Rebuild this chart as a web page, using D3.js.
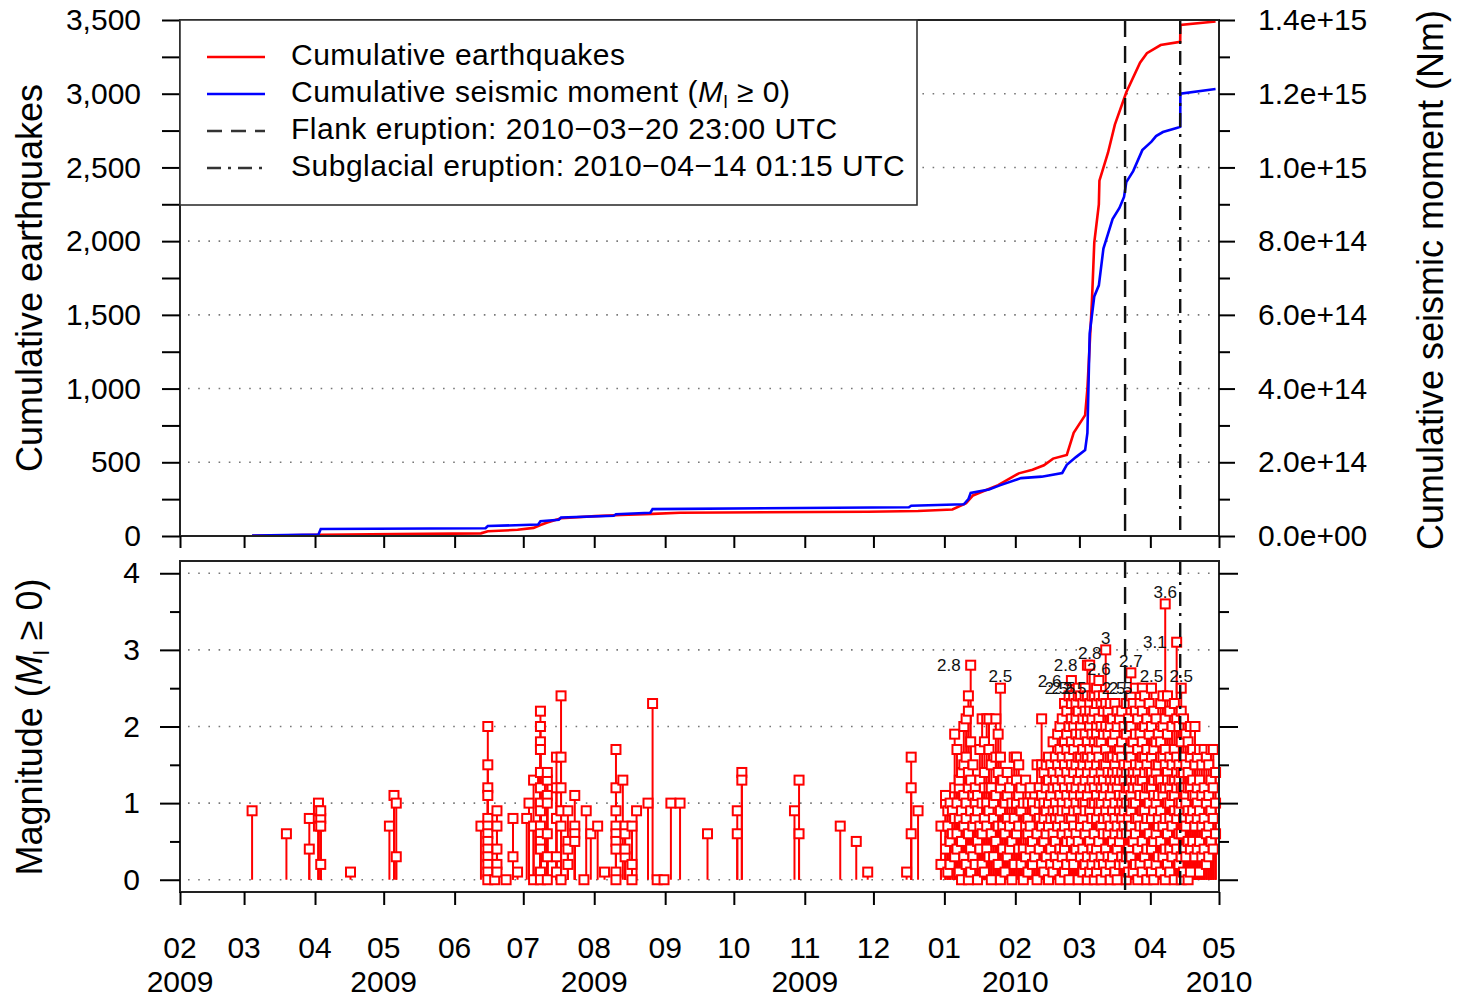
<!DOCTYPE html>
<html>
<head>
<meta charset="utf-8">
<script src="https://cdn.jsdelivr.net/npm/d3@7"></script>
<style>
  body { margin: 0; background: #fff; }
  svg { display: block; }
</style>
</head>
<body>
<svg width="1457" height="1000"></svg>
<script>
// cumulative number of earthquakes (red curve)
const cumCount = [
  ["2009-03-04", 1], ["2009-04-03", 8], ["2009-05-06", 13], ["2009-06-12", 18],
  ["2009-06-15", 32], ["2009-06-28", 42], ["2009-07-05", 55], ["2009-07-08", 75],
  ["2009-07-11", 92], ["2009-07-17", 120], ["2009-08-01", 135], ["2009-08-12", 142],
  ["2009-08-26", 150], ["2009-09-07", 158], ["2009-11-28", 164], ["2009-12-20", 170],
  ["2010-01-04", 180], ["2010-01-10", 222], ["2010-01-13", 275], ["2010-01-24", 345],
  ["2010-02-02", 425], ["2010-02-08", 450], ["2010-02-13", 480], ["2010-02-17", 525],
  ["2010-02-23", 550], ["2010-02-26", 700], ["2010-03-03", 820], ["2010-03-04", 1000],
  ["2010-03-06", 1600], ["2010-03-07", 1990], ["2010-03-09", 2250], ["2010-03-09 18:00", 2410],
  ["2010-03-13", 2600], ["2010-03-16", 2790], ["2010-03-21", 3010], ["2010-03-27", 3210],
  ["2010-03-30", 3275], ["2010-04-05", 3330], ["2010-04-14 01:00", 3352],
  ["2010-04-14 03:00", 3467], ["2010-04-29", 3490]
];

// cumulative seismic moment in Nm (blue curve)
const cumMoment = [
  ["2009-03-04", 0.1e13], ["2009-04-02", 0.4e13], ["2009-04-03", 1.9e13], ["2009-06-14", 2.1e13],
  ["2009-06-15", 2.7e13], ["2009-07-07", 3.1e13], ["2009-07-08", 4.0e13], ["2009-07-16", 4.4e13],
  ["2009-07-17", 5.0e13], ["2009-08-09", 5.5e13], ["2009-08-10", 5.9e13], ["2009-08-25", 6.3e13],
  ["2009-08-26", 7.3e13], ["2009-12-16", 7.8e13], ["2009-12-17", 8.2e13], ["2010-01-09", 8.6e13],
  ["2010-01-11", 1.0e14], ["2010-01-12", 1.17e14], ["2010-01-20", 1.26e14], ["2010-01-25", 1.38e14],
  ["2010-02-03", 1.57e14], ["2010-02-12", 1.61e14], ["2010-02-21", 1.71e14], ["2010-02-23", 1.93e14],
  ["2010-02-27", 2.14e14], ["2010-03-03", 2.33e14], ["2010-03-04 12:00", 2.8e14],
  ["2010-03-05 12:00", 5.5e14], ["2010-03-07", 6.5e14], ["2010-03-09", 6.8e14],
  ["2010-03-11", 7.8e14], ["2010-03-13", 8.2e14], ["2010-03-15 12:00", 8.6e14],
  ["2010-03-18", 8.9e14], ["2010-03-20", 9.2e14], ["2010-03-21", 9.6e14], ["2010-03-24", 9.9e14],
  ["2010-03-28", 1.047e15], ["2010-04-01", 1.07e15], ["2010-04-03", 1.085e15],
  ["2010-04-06", 1.096e15], ["2010-04-12", 1.107e15], ["2010-04-14 01:00", 1.11e15],
  ["2010-04-14 03:00", 1.2e15], ["2010-04-29", 1.213e15]
];

// earthquakes by day: [day, magnitudes]
const quakes2009 = [
  ["2009-03-04", [0.9]], ["2009-03-19", [0.6]], ["2009-03-29", [0.8, 0.4]],
  ["2009-04-02", [1.0, 0.9, 0.7]], ["2009-04-03", [0.8, 0.9, 0.7, 0.2]], ["2009-04-16", [0.1]],
  ["2009-05-03", [0.7]], ["2009-05-05", [1.1]], ["2009-05-06", [1.0, 0.3]],
  ["2009-06-12", [0.7]], ["2009-06-15", [2.0, 1.5, 1.2, 1.1, 0.8, 0.7, 0.6, 0.5, 0.4, 0.3, 0.2, 0.1, 0.0]],
  ["2009-06-18", [0.0]], ["2009-06-19", [0.9, 0.7, 0.4, 0.2, 0.1]], ["2009-06-23", [0.0]],
  ["2009-06-26", [0.8, 0.3]], ["2009-06-28", [0.1]], ["2009-07-02", [0.8]], ["2009-07-03", [1.0]],
  ["2009-07-05", [0.7, 1.3, 0.0]],
  ["2009-07-08", [2.2, 2.0, 1.8, 1.7, 1.4, 1.2, 1.0, 0.9, 0.7, 0.6, 0.5, 0.4, 0.1, 0.0]],
  ["2009-07-11", [1.3, 1.1, 1.0, 1.4, 0.6, 0.3, 0.0]], ["2009-07-15", [1.6, 0.8, 1.2, 0.3, 0.1]],
  ["2009-07-17", [2.4, 1.6, 1.2, 0.9, 0.7, 0.0]], ["2009-07-20", [0.9, 0.5, 0.4, 0.2]],
  ["2009-07-23", [1.1, 0.7, 0.6, 0.5]], ["2009-07-27", [0.0]], ["2009-07-28", [0.9]],
  ["2009-07-30", [0.6]], ["2009-08-02", [0.7]], ["2009-08-05", [0.1]],
  ["2009-08-10", [1.7, 1.2, 0.9, 0.7, 0.6, 0.5, 0.4, 0.1, 0.0]], ["2009-08-13", [1.3]],
  ["2009-08-14", [0.7, 0.3, 0.4, 0.6]], ["2009-08-17", [0.2, 0.0, 0.7]], ["2009-08-19", [0.9]],
  ["2009-08-24", [1.0]], ["2009-08-26", [2.3]], ["2009-08-28", [0.0]], ["2009-08-31", [0.0]],
  ["2009-09-03", [1.0]], ["2009-09-07", [1.0]], ["2009-09-19", [0.6]],
  ["2009-10-02", [0.9, 0.6]], ["2009-10-04", [1.4, 1.3]], ["2009-10-27", [0.9]],
  ["2009-10-29", [1.3, 0.6]], ["2009-11-16", [0.7]], ["2009-11-23", [0.5]], ["2009-11-28", [0.1]],
  ["2009-12-15", [0.1]], ["2009-12-17", [1.6, 1.2, 0.6]], ["2009-12-20", [0.9]],
  ["2009-12-30", [0.7, 0.2]]
];

const quakes2010 = [
  ["2010-01-01", [1.0, 1.1, 0.4]], ["2010-01-02", [0.7, 0.1, 0.9]], ["2010-01-03", [0.5, 1.0, 0.2]],
  ["2010-01-04", [0.9, 0.6]], ["2010-01-05", [1.9, 0.3, 1.2, 0.8]], ["2010-01-06", [1.7, 1.0, 0.4, 0.6]],
  ["2010-01-07", [1.2, 0.1, 0.8, 1.3]], ["2010-01-08", [0.9, 1.4, 0.5, 0.0]],
  ["2010-01-09", [1.5, 0.7, 2.0, 0.3, 1.1]], ["2010-01-10", [2.1, 0.8, 1.6, 0.2, 1.0]],
  ["2010-01-11", [2.2, 2.4, 1.4, 0.6, 0.0, 1.2]], ["2010-01-12", [1.3, 0.9, 0.4, 1.8, 0.1]],
  ["2010-01-13", [1.1, 0.7, 1.5, 0.3]], ["2010-01-14", [0.8, 1.0, 0.2, 1.2]],
  ["2010-01-15", [1.1, 0.5, 0.0, 0.9]], ["2010-01-16", [0.7, 1.7, 1.3, 0.4]],
  ["2010-01-17", [2.1, 1.0, 0.6, 0.2]], ["2010-01-18", [1.4, 1.8, 0.8, 0.1, 1.2]],
  ["2010-01-19", [2.1, 1.0, 0.4, 0.7]], ["2010-01-20", [2.1, 1.7, 0.9, 0.3, 1.2]],
  ["2010-01-21", [1.2, 0.6, 0.0, 1.5]], ["2010-01-22", [1.0, 0.8, 0.3]],
  ["2010-01-23", [2.1, 1.6, 0.5, 1.1]], ["2010-01-24", [1.4, 0.7, 0.2, 1.9]],
  ["2010-01-25", [1.6, 0.9, 0.0, 1.2]], ["2010-01-26", [0.7, 1.3, 0.4]], ["2010-01-27", [1.0, 0.6, 0.1]],
  ["2010-01-28", [1.4, 0.8, 0.3, 1.1]], ["2010-01-29", [0.7, 1.2, 0.4]], ["2010-01-30", [1.0, 0.5, 0.0]],
  ["2010-01-31", [1.6, 0.8, 0.2]], ["2010-02-01", [1.6, 1.0, 0.6, 1.3]], ["2010-02-02", [1.5, 0.7, 0.4, 1.1]],
  ["2010-02-03", [1.2, 0.9, 0.2]], ["2010-02-04", [1.0, 0.4, 0.0]], ["2010-02-05", [0.7, 1.3, 0.3]],
  ["2010-02-06", [1.0, 0.6, 0.1, 0.8]], ["2010-02-07", [0.7, 1.2, 0.4]], ["2010-02-08", [1.0, 0.5, 0.2]],
  ["2010-02-09", [0.9, 0.3]], ["2010-02-10", [1.5, 0.6, 0.0]], ["2010-02-11", [1.2, 0.8, 0.4, 1.0]],
  ["2010-02-12", [1.5, 2.1, 0.7, 0.2, 1.1]], ["2010-02-13", [1.0, 1.4, 0.5, 0.1, 0.8]],
  ["2010-02-14", [1.5, 0.9, 0.3, 1.2, 0.6]], ["2010-02-15", [1.3, 0.7, 0.0, 1.0, 1.6]],
  ["2010-02-16", [1.1, 0.4, 1.5, 0.8, 0.2]], ["2010-02-17", [1.4, 0.9, 0.6, 1.8, 0.1, 1.2]],
  ["2010-02-18", [1.0, 0.5, 1.3, 0.3, 1.6, 0.8]], ["2010-02-19", [1.9, 1.2, 0.7, 0.2, 1.5, 0.9]],
  ["2010-02-20", [2.0, 1.4, 0.8, 0.4, 1.1, 0.0, 1.7]], ["2010-02-21", [2.1, 1.6, 1.0, 0.6, 0.3, 1.3, 0.9]],
  ["2010-02-22", [2.3, 1.8, 1.2, 0.7, 0.1, 1.5, 0.4]], ["2010-02-23", [2.2, 1.9, 1.4, 0.9, 0.5, 1.1, 0.2, 1.7]],
  ["2010-02-24", [2.4, 2.0, 1.6, 1.0, 0.6, 1.3, 0.0, 0.8]], ["2010-02-25", [2.3, 1.8, 1.2, 0.8, 0.3, 1.5, 2.1, 0.5]],
  ["2010-02-26", [2.4, 2.0, 1.7, 1.1, 0.7, 0.2, 1.4, 0.9]], ["2010-02-27", [2.3, 1.9, 1.5, 1.0, 0.4, 1.2, 0.6, 2.1]],
  ["2010-02-28", [2.4, 2.2, 1.8, 1.3, 0.9, 0.5, 0.0, 1.6]], ["2010-03-01", [2.4, 2.0, 1.6, 1.1, 0.7, 0.3, 1.4, 1.9, 0.8]],
  ["2010-03-02", [2.3, 2.1, 1.7, 1.2, 0.8, 0.4, 1.5, 0.1, 1.0]], ["2010-03-03", [2.4, 2.2, 1.9, 1.3, 1.0, 0.6, 0.2, 1.6, 0.9]],
  ["2010-03-04", [2.4, 2.1, 1.8, 1.4, 1.1, 0.7, 0.3, 1.6, 0.0]], ["2010-03-05", [2.3, 2.0, 1.7, 1.2, 0.9, 0.5, 1.5, 0.1, 2.2]],
  ["2010-03-06", [2.4, 2.1, 1.6, 1.3, 0.8, 0.4, 1.0, 1.9, 0.2]], ["2010-03-07", [2.4, 2.2, 1.8, 1.4, 1.0, 0.6, 0.3, 1.2, 0.0]],
  ["2010-03-08", [2.3, 2.0, 1.7, 1.1, 0.8, 0.4, 1.5, 1.9, 0.1]], ["2010-03-09", [2.4, 2.1, 1.6, 1.3, 0.9, 0.5, 0.2, 1.8, 1.0]],
  ["2010-03-10", [2.3, 2.0, 1.8, 1.4, 1.0, 0.7, 0.3, 1.2, 0.0]], ["2010-03-11", [2.4, 2.2, 1.9, 1.5, 1.1, 0.6, 0.2, 1.3, 0.8]],
  ["2010-03-12", [2.3, 2.0, 1.7, 1.2, 0.9, 0.4, 1.5, 0.1]], ["2010-03-13", [2.2, 1.9, 1.4, 1.0, 0.6, 0.3, 1.6, 0.8]],
  ["2010-03-14", [2.3, 2.0, 1.6, 1.1, 0.7, 0.2, 1.3, 0.0]], ["2010-03-15", [2.1, 1.8, 1.4, 0.9, 0.5, 1.2, 0.3, 1.6]],
  ["2010-03-16", [2.3, 1.9, 1.5, 1.0, 0.6, 0.1, 1.3, 0.8]], ["2010-03-17", [2.2, 2.0, 1.6, 1.2, 0.7, 0.4, 1.4, 0.0]],
  ["2010-03-18", [2.1, 1.7, 1.3, 0.9, 0.5, 1.1, 0.2]], ["2010-03-19", [2.2, 1.8, 1.4, 1.0, 0.6, 0.3, 1.6, 0.8]],
  ["2010-03-20", [2.0, 1.5, 1.1, 0.7, 0.2, 1.3, 0.9]], ["2010-03-21", [2.3, 1.9, 1.4, 1.0, 0.6, 0.3, 1.2, 0.0]],
  ["2010-03-22", [2.1, 1.7, 1.2, 0.8, 0.4, 1.5, 0.1]], ["2010-03-23", [2.4, 2.0, 1.6, 1.1, 0.7, 0.3, 1.3, 0.9]],
  ["2010-03-24", [2.3, 1.8, 1.4, 1.0, 0.5, 0.1, 1.2]], ["2010-03-25", [2.2, 1.9, 1.5, 1.0, 0.6, 0.2, 1.3, 0.8]],
  ["2010-03-26", [2.1, 1.7, 1.2, 0.8, 0.4, 1.4, 0.0]], ["2010-03-27", [2.3, 1.9, 1.5, 1.1, 0.7, 0.2, 1.3]],
  ["2010-03-28", [2.2, 1.8, 1.3, 0.9, 0.5, 1.6, 0.1]], ["2010-03-29", [2.4, 2.0, 1.6, 1.1, 0.7, 0.3, 1.4, 0.9]],
  ["2010-03-30", [2.1, 1.7, 1.2, 0.8, 0.4, 1.5, 0.0]], ["2010-03-31", [2.3, 1.9, 1.4, 1.0, 0.6, 0.2, 1.2]],
  ["2010-04-01", [2.0, 1.6, 1.2, 0.8, 0.4, 1.4, 0.1]], ["2010-04-02", [2.2, 1.7, 1.3, 0.9, 0.5, 1.1, 0.0]],
  ["2010-04-03", [2.1, 1.8, 1.4, 1.0, 0.6, 0.2, 1.5]], ["2010-04-04", [1.9, 1.5, 1.1, 0.7, 0.3, 1.3, 0.8]],
  ["2010-04-05", [2.3, 1.8, 1.3, 0.9, 0.5, 1.6, 0.1]], ["2010-04-06", [2.4, 2.0, 1.6, 1.1, 0.7, 0.3, 1.2]],
  ["2010-04-07", [2.1, 1.7, 1.2, 0.8, 0.4, 1.5, 0.0]], ["2010-04-08", [2.4, 1.9, 1.4, 1.0, 0.6, 0.2, 1.3]],
  ["2010-04-09", [2.2, 1.6, 1.2, 0.8, 0.4, 1.0, 0.1]], ["2010-04-10", [2.0, 1.5, 1.1, 0.7, 0.3, 1.3]],
  ["2010-04-11", [2.3, 1.7, 1.3, 0.9, 0.5, 0.0, 1.1]], ["2010-04-12", [2.1, 1.6, 1.2, 0.8, 0.4, 1.4]],
  ["2010-04-13", [2.0, 1.5, 1.0, 0.6, 0.2, 1.3, 0.9]], ["2010-04-14", [2.2, 1.8, 1.4, 1.0, 0.6, 0.3, 1.2, 0.0]],
  ["2010-04-15", [2.1, 1.6, 1.2, 0.8, 0.4, 1.4, 0.1]], ["2010-04-16", [1.9, 1.5, 1.1, 0.7, 0.3, 1.0]],
  ["2010-04-17", [1.8, 1.4, 0.9, 0.5, 1.2, 0.0]], ["2010-04-18", [2.0, 1.6, 1.2, 0.8, 0.4, 0.1]],
  ["2010-04-19", [1.7, 1.3, 0.9, 0.5, 1.1]], ["2010-04-20", [2.0, 1.5, 1.1, 0.7, 0.3]],
  ["2010-04-21", [1.6, 1.2, 0.8, 0.4, 1.0]], ["2010-04-22", [1.7, 1.3, 0.9, 0.5, 0.1]],
  ["2010-04-23", [1.5, 1.1, 0.7, 0.3]], ["2010-04-24", [1.7, 1.2, 0.8, 0.4]],
  ["2010-04-25", [1.6, 1.0, 0.6, 0.2]], ["2010-04-26", [1.5, 1.1, 0.7, 0.3]],
  ["2010-04-27", [1.7, 1.3, 0.9, 0.5]], ["2010-04-28", [1.7, 1.2, 0.8, 0.4]],
  ["2010-04-29", [1.4, 1.0, 0.6]]
];

// events with Ml >= 2.5, labelled in the plot
const bigQuakes = [
  ["2010-01-12", 2.8], ["2010-01-25", 2.5], ["2010-02-25", 2.6], ["2010-02-28", 2.5],
  ["2010-03-03", 2.5], ["2010-03-04", 2.8], ["2010-03-05", 2.8], ["2010-03-08", 2.5],
  ["2010-03-09", 2.6], ["2010-03-12", 3.0], ["2010-03-23", 2.7], ["2010-03-25", 2.5],
  ["2010-03-28", 2.5], ["2010-04-01", 2.5], ["2010-04-07", 3.6], ["2010-04-12", 3.1],
  ["2010-04-14", 2.5]
];
const bigLabelSide = [
  "left", "above", "left", "left", "left", "left", "above", "left",
  "above", "above", "above", "left", "left", "above", "above", "left", "above"
];

const eruptionTimes = ["2010-03-20 23:00", "2010-04-14 01:15"];
const eruptionDash = ["17,9", "14,7,3,7"];

const countTicks = [0, 500, 1000, 1500, 2000, 2500, 3000, 3500];
const countMinor = [250, 750, 1250, 1750, 2250, 2750, 3250];
const momentTicks = [0, 2e14, 4e14, 6e14, 8e14, 1e15, 1.2e15, 1.4e15];
const momentLabels = ["0.0e+00", "2.0e+14", "4.0e+14", "6.0e+14", "8.0e+14", "1.0e+15", "1.2e+15", "1.4e+15"];
const momentMinor = [1e14, 3e14, 5e14, 7e14, 9e14, 1.1e15, 1.3e15];
const magTicks = [0, 1, 2, 3, 4];
const magMinor = [0.5, 1.5, 2.5, 3.5];
const monthLabels = ["02", "03", "04", "05", "06", "07", "08", "09", "10", "11", "12", "01", "02", "03", "04", "05"];
const yearLabels = ["2009", "", "", "2009", "", "", "2009", "", "", "2009", "", "", "2010", "", "", "2010"];

// ---------------------------------------------------------------
const font = '"Liberation Sans", Arial, Helvetica, sans-serif';
const parse = s => new Date(s.length > 10 ? s.replace(" ", "T") + ":00Z" : s + "T12:00:00Z");

const L = 180, R = 1219;
const top1 = 20, bot1 = 536;     // upper panel
const top2 = 561, bot2 = 892;    // lower panel

const x = d3.scaleUtc()
  .domain([Date.UTC(2009, 1, 1), Date.UTC(2010, 4, 1)])
  .range([L, R]);
const yCount = d3.scaleLinear().domain([0, 3500]).range([bot1, top1]);
const yMoment = d3.scaleLinear().domain([0, 1.4e15]).range([bot1, top1]);
const yMag = d3.scaleLinear().domain([-0.16, 4.16]).range([bot2, top2]);

const svg = d3.select("svg").attr("font-family", font);

function styleAxis(g, size) {
  g.attr("font-size", size).attr("font-family", font);
  g.select(".domain").remove();
  g.selectAll(".tick line").attr("stroke", "#000").attr("stroke-width", 2);
  g.selectAll(".tick text").attr("fill", "#000");
}

// gridlines
function grid(vals, scale) {
  svg.append("g").selectAll("line").data(vals).join("line")
    .attr("x1", L + 8).attr("x2", R - 2)
    .attr("y1", d => scale(d)).attr("y2", d => scale(d))
    .attr("stroke", "#777").attr("stroke-width", 1.6)
    .attr("stroke-dasharray", "1.6,8.6");
}
grid(countTicks.filter(d => d > 0 && d < 3500), yCount);
grid(magTicks, yMag);

// clip for the upper panel
svg.append("clipPath").attr("id", "clip1").append("rect")
  .attr("x", L).attr("y", top1).attr("width", R - L).attr("height", bot1 - top1);

const line1 = d3.line().x(d => x(parse(d[0]))).y(d => yCount(d[1]));
const line2 = d3.line().x(d => x(parse(d[0]))).y(d => yMoment(d[1]));

svg.append("path").datum(cumCount).attr("d", line1)
  .attr("clip-path", "url(#clip1)")
  .attr("fill", "none").attr("stroke", "#ff0000").attr("stroke-width", 2.6);
svg.append("path").datum(cumMoment).attr("d", line2)
  .attr("clip-path", "url(#clip1)")
  .attr("fill", "none").attr("stroke", "#0000ff").attr("stroke-width", 2.6);

// magnitude stems, then squares on top
const events = [];
quakes2009.concat(quakes2010).forEach(([day, mags]) => {
  mags.forEach(m => events.push({ t: parse(day), m: m }));
});
bigQuakes.forEach(([day, m], i) => events.push({ t: parse(day), m: m, side: bigLabelSide[i] }));
events.sort((a, b) => a.t - b.t);

svg.append("g").selectAll("line").data(events).join("line")
  .attr("x1", d => x(d.t)).attr("x2", d => x(d.t))
  .attr("y1", yMag(0)).attr("y2", d => yMag(d.m))
  .attr("stroke", "#ff0000").attr("stroke-width", 2);
svg.append("g").selectAll("rect").data(events).join("rect")
  .attr("x", d => x(d.t) - 4.5).attr("y", d => yMag(d.m) - 4.5)
  .attr("width", 9).attr("height", 9)
  .attr("fill", "#fff").attr("stroke", "#ff0000").attr("stroke-width", 2);

// eruption lines in both panels
eruptionTimes.forEach((t, i) => {
  const ex = x(parse(t));
  [[top1, bot1], [top2, bot2]].forEach(([a, b]) => {
    svg.append("line")
      .attr("x1", ex).attr("x2", ex).attr("y1", a).attr("y2", b)
      .attr("stroke", "#111").attr("stroke-width", 2.4)
      .attr("stroke-dasharray", eruptionDash[i]);
  });
});

// magnitude labels
svg.append("g").selectAll("text").data(events.filter(d => d.side)).join("text")
  .attr("x", d => d.side === "left" ? x(d.t) - 10 : x(d.t))
  .attr("y", d => d.side === "left" ? yMag(d.m) + 6 : yMag(d.m) - 6)
  .attr("text-anchor", d => d.side === "left" ? "end" : "middle")
  .attr("font-size", 17).attr("fill", "#111")
  .text(d => String(d.m));

// panel frames
[[top1, bot1], [top2, bot2]].forEach(([a, b]) => {
  svg.append("rect").attr("x", L).attr("y", a).attr("width", R - L).attr("height", b - a)
    .attr("fill", "none").attr("stroke", "#222").attr("stroke-width", 2);
});

// axes, upper panel
svg.append("g").attr("transform", `translate(${L},0)`)
  .call(d3.axisLeft(yCount).tickValues(countTicks).tickSize(18).tickPadding(21)
    .tickFormat(d3.format(",")))
  .call(g => styleAxis(g, 30));
svg.append("g").attr("transform", `translate(${L},0)`)
  .call(d3.axisLeft(yCount).tickValues(countMinor).tickSize(18).tickFormat(() => ""))
  .call(g => styleAxis(g, 30));
svg.append("g").attr("transform", `translate(${R},0)`)
  .call(d3.axisRight(yMoment).tickValues(momentTicks).tickSize(16).tickPadding(23)
    .tickFormat((d, i) => momentLabels[i]))
  .call(g => styleAxis(g, 30));
svg.append("g").attr("transform", `translate(${R},0)`)
  .call(d3.axisRight(yMoment).tickValues(momentMinor).tickSize(11).tickFormat(() => ""))
  .call(g => styleAxis(g, 30));

const months = d3.utcMonth.range(new Date(Date.UTC(2009, 1, 1)), new Date(Date.UTC(2010, 4, 2)));
svg.append("g").attr("transform", `translate(0,${bot1})`)
  .call(d3.axisBottom(x).tickValues(months).tickSize(12).tickFormat(() => ""))
  .call(g => styleAxis(g, 30));

// axes, lower panel
svg.append("g").attr("transform", `translate(${L},0)`)
  .call(d3.axisLeft(yMag).tickValues(magTicks).tickSize(20).tickPadding(20).tickFormat(d3.format("d")))
  .call(g => styleAxis(g, 30));
svg.append("g").attr("transform", `translate(${L},0)`)
  .call(d3.axisLeft(yMag).tickValues(magMinor).tickSize(10).tickFormat(() => ""))
  .call(g => styleAxis(g, 30));
svg.append("g").attr("transform", `translate(${R},0)`)
  .call(d3.axisRight(yMag).tickValues(magTicks).tickSize(19).tickFormat(() => ""))
  .call(g => styleAxis(g, 30));
svg.append("g").attr("transform", `translate(${R},0)`)
  .call(d3.axisRight(yMag).tickValues(magMinor).tickSize(10).tickFormat(() => ""))
  .call(g => styleAxis(g, 30));
svg.append("g").attr("transform", `translate(0,${bot2})`)
  .call(d3.axisBottom(x).tickValues(months).tickSize(13).tickFormat(() => ""))
  .call(g => styleAxis(g, 30));

// month / year labels
const xl = svg.append("g").attr("font-size", 30).attr("text-anchor", "middle").attr("fill", "#000");
months.forEach((m, i) => {
  xl.append("text").attr("x", x(m)).attr("y", 958).text(monthLabels[i]);
  if (yearLabels[i]) xl.append("text").attr("x", x(m)).attr("y", 992).text(yearLabels[i]);
});

// axis titles
svg.append("text").attr("transform", "translate(42,278) rotate(-90)")
  .attr("text-anchor", "middle").attr("font-size", 36)
  .text("Cumulative earthquakes");
svg.append("text").attr("transform", "translate(1443,280) rotate(-90)")
  .attr("text-anchor", "middle").attr("font-size", 36)
  .text("Cumulative seismic moment (Nm)");

function mlText(sel, before) {
  sel.append("tspan").text(before);
  sel.append("tspan").attr("font-style", "italic").text("M");
  sel.append("tspan").attr("font-size", "0.62em").attr("dy", "0.3em").text("l");
  sel.append("tspan").attr("dy", "-0.19em").text(" \u2265 0)");
}
svg.append("text").attr("transform", "translate(42,727) rotate(-90)")
  .attr("text-anchor", "middle").attr("font-size", 36)
  .call(t => mlText(t, "Magnitude ("));

// legend
const lg = svg.append("g");
lg.append("rect").attr("x", L).attr("y", top1).attr("width", 737).attr("height", 185)
  .attr("fill", "#fff").attr("stroke", "#333").attr("stroke-width", 1.6);
const legendRows = [
  { y: 57, color: "#ff0000", dash: null },
  { y: 94, color: "#0000ff", dash: null },
  { y: 131, color: "#333", dash: "15,9" },
  { y: 168, color: "#333", dash: eruptionDash[1] }
];
legendRows.forEach(r => {
  lg.append("line").attr("x1", 207).attr("x2", 265).attr("y1", r.y).attr("y2", r.y)
    .attr("stroke", r.color).attr("stroke-width", 2.6)
    .attr("stroke-dasharray", r.dash);
});
const lt = (y) => lg.append("text").attr("x", 291).attr("y", y)
  .attr("font-size", 30).attr("letter-spacing", 0.5).attr("fill", "#000");
lt(65).text("Cumulative earthquakes");
lt(102).call(t => mlText(t, "Cumulative seismic moment ("));
lt(139).text("Flank eruption: 2010\u221203\u221220 23:00 UTC");
lt(176).text("Subglacial eruption: 2010\u221204\u221214 01:15 UTC");
</script>
</body>
</html>
